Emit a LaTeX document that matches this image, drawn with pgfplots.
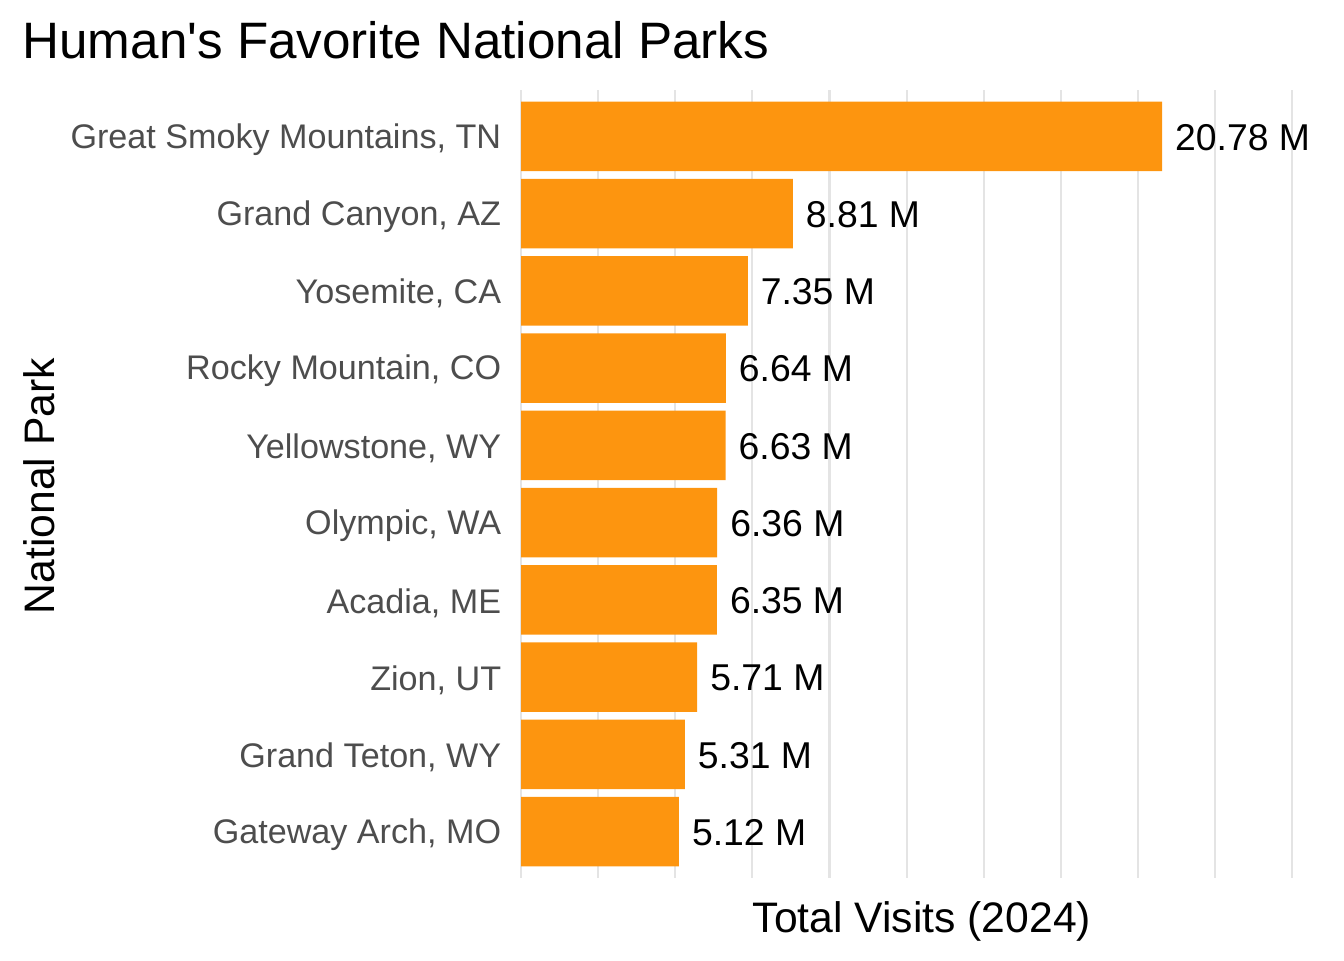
\documentclass[border=0pt]{standalone}
\usepackage{pgfplots}
\pgfplotsset{compat=1.18}
\usepackage{fontspec}
\setmainfont{Liberation Sans}[Ligatures=TeXOff]
\definecolor{barorange}{HTML}{FD950F}
\definecolor{gridgray}{HTML}{E4E4E4}
\definecolor{ticktext}{HTML}{4D4D4D}

\begin{document}
\begin{tikzpicture}
\path[use as bounding box] (0,0) rectangle (504pt,360pt);
\begin{axis}[
  at={(195.4pt,30.75pt)}, anchor=south west,
  scale only axis, width=300.75pt, height=295.5pt,
  xbar, bar width=0.9, bar shift=0pt,
  xmin=0, xmax=26, ymin=0.4, ymax=10.6,
  axis line style={draw=none}, tick style={draw=none},
  xtick={0,2.5,...,25}, xticklabels={},
  xmajorgrids, major grid style={gridgray, line width=0.8pt},
  ytick={1,...,10},
  yticklabels={{Gateway Arch, MO}, {Grand Teton, WY}, {Zion, UT}, {Acadia, ME},
    {Olympic, WA}, {Yellowstone, WY}, {Rocky Mountain, CO}, {Yosemite, CA},
    {Grand Canyon, AZ}, {Great Smoky Mountains, TN}},
  yticklabel style={anchor=east, inner sep=0pt, xshift=-3pt, yshift=-1.1pt,
    font=\fontsize{12.8}{15}\selectfont, text=ticktext},
  point meta=explicit symbolic,
  nodes near coords,
  nodes near coords style={anchor=west, inner sep=0pt, xshift=4.7pt, yshift=-0.3pt,
    font=\fontsize{14}{16}\selectfont, text=black},
]
\addplot[fill=barorange, draw=none] coordinates {
  (5.12,1) [5.12 M]
  (5.31,2) [5.31 M]
  (5.71,3) [5.71 M]
  (6.35,4) [6.35 M]
  (6.36,5) [6.36 M]
  (6.63,6) [6.63 M]
  (6.64,7) [6.64 M]
  (7.35,8) [7.35 M]
  (8.81,9) [8.81 M]
  (20.78,10) [20.78 M]
};
\end{axis}
\node[anchor=base west, inner sep=0pt, font=\fontsize{19.2}{23}\selectfont]
  at (8.25pt,337.9pt) {Human's Favorite National Parks};
\node[anchor=base, inner sep=0pt, font=\fontsize{16}{19}\selectfont]
  at (345.75pt,10.5pt) {Total Visits (2024)};
\node[anchor=base, rotate=90, inner sep=0pt, font=\fontsize{16}{19}\selectfont]
  at (20.25pt,177.75pt) {National Park};
\end{tikzpicture}
\end{document}
